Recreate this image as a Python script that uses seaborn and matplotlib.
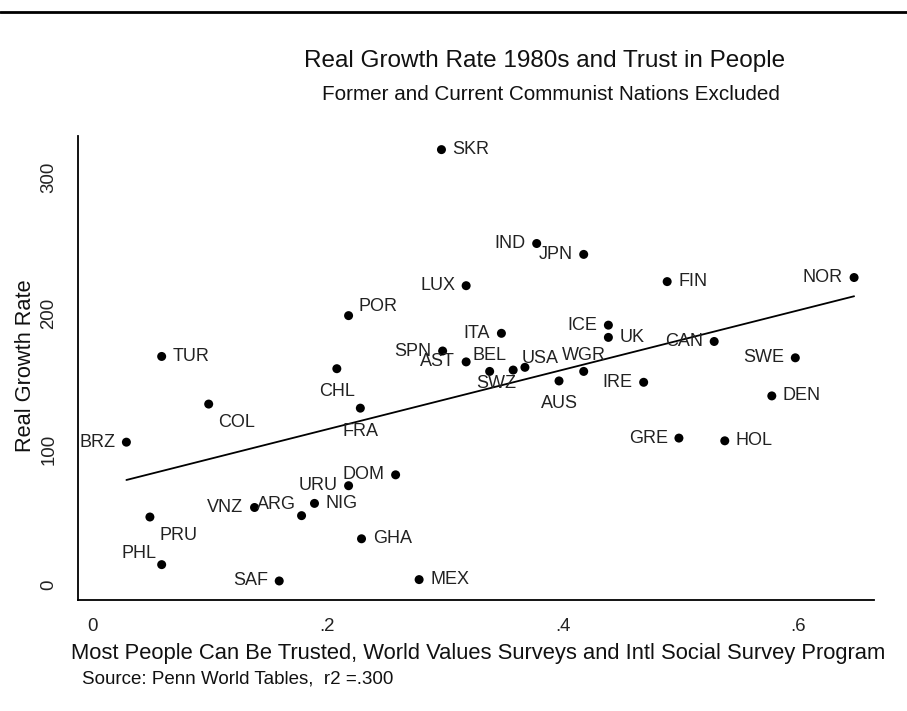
import matplotlib
matplotlib.use("Agg")
import matplotlib.pyplot as plt
from matplotlib.lines import Line2D
import seaborn as sns
import pandas as pd

# Country codes, trust share and 1980s real growth
countries = ["SKR", "IND", "JPN", "LUX", "ITA", "ICE", "UK", "SPN", "AST", "BEL",
             "SWZ", "USA", "AUS", "WGR", "IRE", "FIN", "NOR", "CAN", "SWE", "DEN",
             "GRE", "HOL", "TUR", "POR", "CHL", "FRA", "COL", "BRZ", "PRU", "PHL",
             "VNZ", "ARG", "NIG", "URU", "DOM", "GHA", "SAF", "MEX"]
trust = [0.297, 0.378, 0.418, 0.318, 0.348, 0.439, 0.439, 0.298, 0.318, 0.338,
         0.358, 0.368, 0.397, 0.418, 0.469, 0.489, 0.648, 0.529, 0.598, 0.578,
         0.499, 0.538, 0.059, 0.218, 0.208, 0.228, 0.099, 0.029, 0.049, 0.059,
         0.138, 0.178, 0.189, 0.218, 0.258, 0.229, 0.159, 0.278]
growth = [320, 251, 243, 220, 185, 191, 182, 172, 164, 157,
          158, 160, 150, 157, 149, 223, 226, 179, 167, 139,
          108, 106, 168, 198, 159, 130, 133, 105, 50, 15,
          57, 51, 60, 73, 81, 34, 3, 4]
# Label placement as clock positions around each point
label_pos = [3, 9, 9, 9, 9, 9, 3, 9, 9, 12,
             7, 1, 6, 12, 9, 3, 9, 9, 9, 3,
             9, 3, 3, 2, 6, 6, 4, 9, 4, 10,
             9, 10, 3, 9, 9, 3, 9, 3]

x_ticks = [0, 0.2, 0.4, 0.6]
x_ticklabels = ["0", ".2", ".4", ".6"]
y_ticks = [0, 100, 200, 300]

df = pd.DataFrame({"country": countries, "trust": trust, "growth": growth})

sns.set_theme(style="white")
plt.rcParams["font.family"] = ["Liberation Sans", "DejaVu Sans"]

fig = plt.figure(figsize=(9.07, 7.11), dpi=100)
ax = fig.add_axes([0.0857, 0.1561, 0.878, 0.6526])

sns.regplot(data=df, x="trust", y="growth", scatter=False, ci=None, ax=ax,
            line_kws=dict(color="black", lw=1.3))
sns.scatterplot(data=df, x="trust", y="growth", ax=ax, color="black",
                s=42, edgecolor="none", zorder=3)

offsets = {
    3: ((8, 0), "left"),
    9: ((-8, 0), "right"),
    6: ((0, -16.5), "center"),
    12: ((0, 11.5), "center"),
    2: ((7, 6.5), "left"),
    1: ((-2.5, 6), "left"),
    4: ((7, -13), "left"),
    7: ((-12, -9.6), "center"),
    10: ((-4, 8), "right"),
}
for name, xv, yv, pos in zip(countries, trust, growth, label_pos):
    (dx, dy), ha = offsets[pos]
    ax.annotate(name, (xv, yv), xytext=(dx, dy), textcoords="offset points",
                ha=ha, va="center", fontsize=13, color="#222222")

ax.set_xlim(-0.0124, 0.665)
ax.set_ylim(-11, 330)
ax.set_xticks(x_ticks)
ax.set_xticklabels(x_ticklabels)
ax.set_yticks(y_ticks)
ax.tick_params(axis="both", direction="out", length=7.2, width=1.1,
               color="black", labelsize=13.4, labelcolor="#222222")
ax.tick_params(axis="x", pad=5.5)
ax.tick_params(axis="y", pad=7.5)
for lab in ax.get_yticklabels():
    lab.set_rotation(90)
    lab.set_va("center")
    lab.set_ha("right")

for side in ["top", "right"]:
    ax.spines[side].set_visible(False)
for side in ["left", "bottom"]:
    ax.spines[side].set_color("black")
    ax.spines[side].set_linewidth(1.3)

ax.set_xlabel("Most People Can Be Trusted, World Values Surveys and Intl Social Survey Program",
              fontsize=15.8, color="#111111")
ax.xaxis.set_label_coords(0.5033, -0.1272)
ax.xaxis.label.set_va("baseline")
ax.set_ylabel("Real Growth Rate", fontsize=15.7, color="#111111")
ax.yaxis.set_label_coords(-0.0662, 0.5043)
ax.yaxis.label.set_va("center")

fig.text(0.60, 1 - 67 / 711, "Real Growth Rate 1980s and Trust in People",
         ha="center", va="baseline", fontsize=17.5, color="#111111")
fig.text(0.6075, 1 - 100 / 711, "Former and Current Communist Nations Excluded",
         ha="center", va="baseline", fontsize=14.9, color="#111111")
fig.text(0.09, 1 - 683.4 / 711, "Source: Penn World Tables,  r2 =.300",
         ha="left", va="baseline", fontsize=13.5, color="#111111")

fig.add_artist(Line2D([0, 1], [1 - 11.7 / 711, 1 - 11.7 / 711],
                      color="black", lw=2.0, transform=fig.transFigure))

fig.savefig("out.png", dpi=100, facecolor="white")
